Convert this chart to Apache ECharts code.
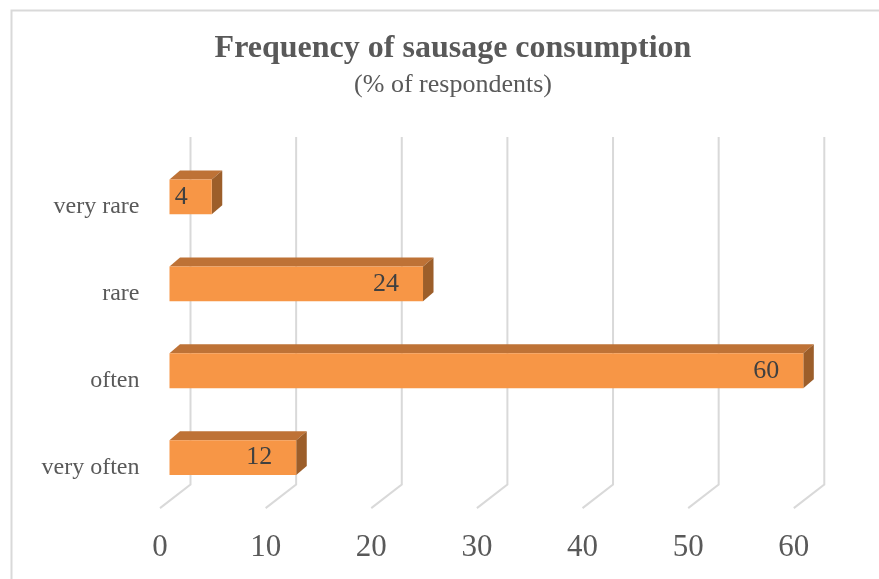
<!DOCTYPE html>
<html>
<head>
<meta charset="utf-8">
<script src="https://cdn.jsdelivr.net/npm/echarts@6/dist/echarts.min.js"></script>
<style>
html,body{margin:0;padding:0;background:#fff;}
#chart{width:879px;height:579px;}
</style>
</head>
<body>
<div id="chart"></div>
<script>
// Data (bottom to top as drawn)
const categories = ['very often', 'often', 'rare', 'very rare'];
const values = [12, 60, 24, 4];
const tickValues = [0, 10, 20, 30, 40, 50, 60];
const titleText = 'Frequency of sausage consumption';
const subtitleText = '(% of respondents)';

const FONT = '"Liberation Serif", "Times New Roman", serif';
const TEXT = '#595959';
const FRONT = '#F79646';
const TOP = '#BE7236';
const SIDE = '#9C5E2A';
const GRID = '#D9D9D9';

// 3D depth offsets (pixels)
const BAR_DX = 10.5, BAR_DY = -9;
const BACK_DX = 21, BACK_DY = -16.5;
const FLOOR_DX = -9.5, FLOOR_DY = 7;

const chart = echarts.init(document.getElementById('chart'), null, {renderer: 'canvas'});

const barData = values.map((v, i) => [v, i]);
const gridData = tickValues.map(v => [v, 0]);

const option = {
  backgroundColor: '#fff',
  animation: false,
  title: [
    {
      text: titleText, left: 448, top: 28, textAlign: 'center',
      textStyle: {fontFamily: FONT, fontSize: 32, fontWeight: 'bold', color: TEXT}
    },
    {
      text: subtitleText, left: 448, top: 67, textAlign: 'center',
      textStyle: {fontFamily: FONT, fontSize: 26, fontWeight: 'normal', color: TEXT}
    }
  ],
  graphic: [{
    type: 'rect', left: 9, top: 8, z: 100,
    shape: {x: 0, y: 0, width: 900, height: 600},
    style: {fill: 'none', stroke: GRID, lineWidth: 2}
  }],
  grid: {left: 169.5, top: 153.5, width: 633.8, height: 347.6},
  xAxis: {
    type: 'value', min: 0, max: 60, interval: 10,
    axisLine: {show: false}, axisTick: {show: false}, splitLine: {show: false},
    axisLabel: {
      fontFamily: FONT, fontSize: 31, color: TEXT, margin: 31,
      padding: [0, 19, 0, 0]
    }
  },
  yAxis: {
    type: 'category', data: categories,
    axisLine: {show: false}, axisTick: {show: false}, splitLine: {show: false},
    axisLabel: {
      fontFamily: FONT, fontSize: 24, color: TEXT, margin: 30,
      verticalAlign: 'top', lineHeight: 20
    }
  },
  series: [
    {
      type: 'custom', name: 'grid', z: 1, silent: true,
      data: gridData,
      encode: {x: 0, y: 1},
      renderItem: function (params, api) {
        const cs = params.coordSys;
        const x = api.coord([api.value(0), 0])[0];
        const bottom = cs.y + cs.height;
        const pts = [
          [x + BACK_DX, cs.y + BACK_DY],
          [x + BACK_DX, bottom + BACK_DY],
          [x + FLOOR_DX, bottom + FLOOR_DY]
        ];
        return {
          type: 'polyline',
          shape: {points: pts},
          style: {stroke: GRID, lineWidth: 2, fill: 'none'}
        };
      }
    },
    {
      type: 'custom', name: 'bars', z: 5,
      data: barData,
      encode: {x: 0, y: 1},
      renderItem: function (params, api) {
        const v = api.value(0), c = api.value(1);
        const p0 = api.coord([0, c]);
        const p1 = api.coord([v, c]);
        const h = api.size([0, 1])[1] * 0.4;
        const x = p0[0], y = p0[1] - h / 2, w = p1[0] - p0[0];
        return {
          type: 'group',
          children: [
            {
              type: 'polygon',
              shape: {points: [[x, y], [x + BAR_DX, y + BAR_DY], [x + w + BAR_DX, y + BAR_DY], [x + w, y]]},
              style: {fill: TOP}
            },
            {
              type: 'polygon',
              shape: {points: [[x + w, y], [x + w + BAR_DX, y + BAR_DY], [x + w + BAR_DX, y + h + BAR_DY], [x + w, y + h]]},
              style: {fill: SIDE}
            },
            {
              type: 'rect',
              shape: {x: x, y: y, width: w, height: h},
              style: {fill: FRONT}
            },
            {
              type: 'text',
              x: x + w - 24, y: y + h / 2,
              style: {
                text: String(v), fontFamily: FONT, fontSize: 26, fill: '#404040',
                align: 'right', verticalAlign: 'middle'
              }
            }
          ]
        };
      }
    }
  ]
};
chart.setOption(option);
</script>
</body>
</html>
